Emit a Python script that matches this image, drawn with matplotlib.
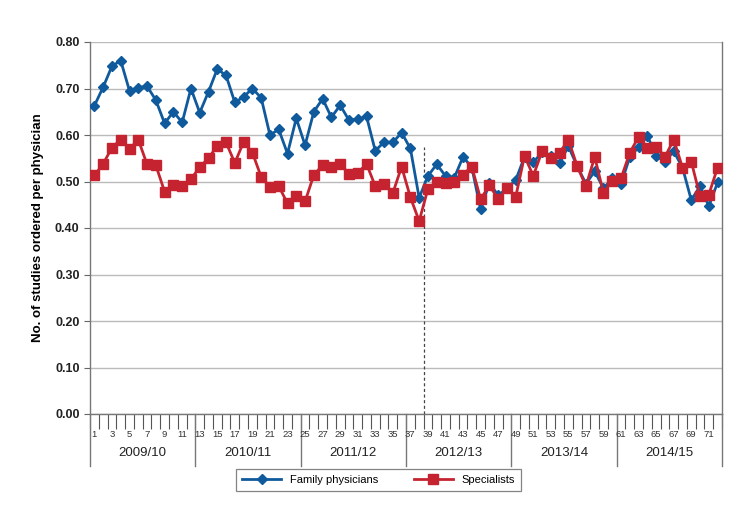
import numpy as np
import matplotlib
matplotlib.use("Agg")
import matplotlib.pyplot as plt
from matplotlib.transforms import blended_transform_factory

plt.rcParams['font.family'] = ['Liberation Sans', 'DejaVu Sans']

months = list(range(1, 73))
years = ["2009/10", "2010/11", "2011/12", "2012/13", "2013/14", "2014/15"]

family = [0.663, 0.703, 0.748, 0.760, 0.695, 0.702, 0.705, 0.675, 0.625, 0.650, 0.627, 0.700,
          0.648, 0.693, 0.742, 0.728, 0.670, 0.682, 0.700, 0.680, 0.600, 0.612, 0.560, 0.636,
          0.578, 0.650, 0.678, 0.638, 0.664, 0.632, 0.634, 0.640, 0.566, 0.585, 0.584, 0.605,
          0.571, 0.465, 0.512, 0.537, 0.512, 0.508, 0.553, 0.530, 0.440, 0.497, 0.470, 0.485,
          0.503, 0.553, 0.541, 0.563, 0.554, 0.540, 0.576, 0.533, 0.495, 0.522, 0.485, 0.507,
          0.495, 0.553, 0.574, 0.598, 0.555, 0.543, 0.565, 0.530, 0.460, 0.490, 0.447, 0.498]

specialists = [0.513, 0.538, 0.573, 0.590, 0.570, 0.590, 0.537, 0.535, 0.478, 0.493, 0.490, 0.505,
               0.531, 0.550, 0.577, 0.584, 0.540, 0.585, 0.562, 0.510, 0.488, 0.490, 0.453, 0.468,
               0.457, 0.514, 0.535, 0.532, 0.537, 0.517, 0.518, 0.538, 0.490, 0.495, 0.475, 0.532,
               0.466, 0.415, 0.484, 0.500, 0.497, 0.498, 0.515, 0.532, 0.462, 0.492, 0.462, 0.485,
               0.467, 0.555, 0.512, 0.565, 0.550, 0.562, 0.590, 0.533, 0.490, 0.553, 0.475, 0.502,
               0.507, 0.562, 0.596, 0.573, 0.575, 0.553, 0.590, 0.530, 0.543, 0.468, 0.472, 0.530]

yticks = [0.0, 0.1, 0.2, 0.3, 0.4, 0.5, 0.6, 0.7, 0.8]

blue = "#0F5A9C"
red = "#C62330"

fig = plt.figure(figsize=(7.56, 5.2), dpi=100)
ax = fig.add_axes([90/756, 1-414/520, (722-90)/756, (414-42)/520])

ax.set_xlim(0.5, 72.5)
ax.set_ylim(0, 0.8)
ax.set_yticks(yticks)
ax.set_yticklabels([f"{v:.2f}" for v in yticks], fontsize=9, fontweight='bold', color='#222222')
ax.yaxis.grid(True, color='#BBBBBB', lw=1)
ax.set_axisbelow(True)
ax.tick_params(axis='y', length=4, color='#666666')

for s in ax.spines.values():
    s.set_color('#777777')
    s.set_linewidth(1)
ax.spines['top'].set_visible(False)

ax.set_xticks([])
ax.set_xticks(np.arange(0.5, 73, 1), minor=True)
ax.tick_params(axis='x', which='minor', length=11, direction='out', color='#555555', width=0.8)

ax.plot(months, family, color=blue, lw=2, marker='D', ms=5, label='Family physicians', zorder=3)
ax.plot(months, specialists, color=red, lw=2, marker='s', ms=6.5, label='Specialists', zorder=4)

# dashed separator
ax.plot([38.5, 38.5], [0, 0.575], ls=(0, (2.5, 2)), color='#444444', lw=0.9, zorder=2)

trans = blended_transform_factory(ax.transData, ax.transAxes)
for m in months:
    if m % 2 == 1:
        ax.text(m, -0.055, str(m), transform=trans, ha='center', va='center',
                fontsize=6.8, color='#333333')
for i, y in enumerate(years):
    ax.text(12 * i + 6.5, -0.105, y, transform=trans, ha='center', va='center',
            fontsize=9.5, color='#222222')
for b in range(0, 73, 12):
    ax.plot([b + 0.5, b + 0.5], [0, -0.14], transform=trans, color='#777777', lw=1, clip_on=False)

ax.set_ylabel("No. of studies ordered per physician", fontsize=9.5, fontweight='bold', labelpad=8)

leg = fig.legend(loc='center', bbox_to_anchor=(0.501, 1-480/520), ncol=2, fontsize=8,
                 frameon=True, fancybox=False, edgecolor='#666666', handlelength=3.5,
                 columnspacing=3.2, borderpad=0.55)
leg.get_frame().set_linewidth(0.9)

fig.savefig("out.png", dpi=100)
